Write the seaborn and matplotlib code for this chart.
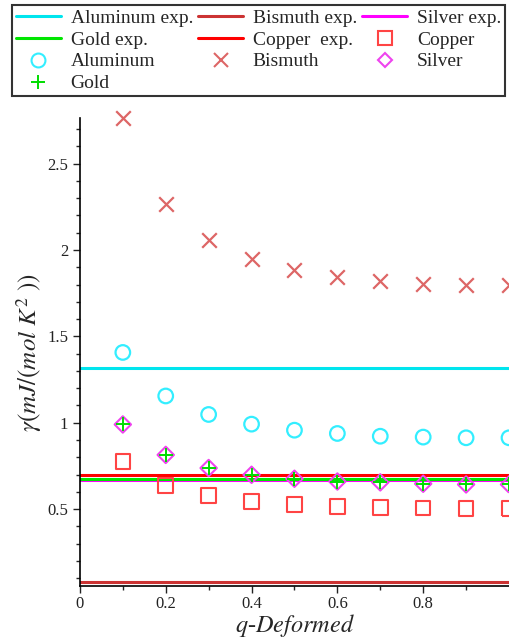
import numpy as np
import pandas as pd
import matplotlib
matplotlib.use("Agg")
import matplotlib.pyplot as plt
import seaborn as sns
from matplotlib.lines import Line2D

# --- dados ---
q_values = [0.1, 0.2, 0.3, 0.4, 0.5, 0.6, 0.7, 0.8, 0.9, 1.0]
aluminum = [1.407, 1.155, 1.048, 0.992, 0.957, 0.938, 0.922, 0.917, 0.913, 0.913]
bismuth = [2.764, 2.268, 2.060, 1.950, 1.886, 1.843, 1.818, 1.805, 1.799, 1.795]
gold = [0.990, 0.814, 0.738, 0.699, 0.676, 0.660, 0.655, 0.647, 0.643, 0.643]
silver = [0.990, 0.814, 0.738, 0.699, 0.676, 0.660, 0.655, 0.647, 0.643, 0.643]
copper = [0.777, 0.636, 0.578, 0.545, 0.528, 0.516, 0.510, 0.506, 0.503, 0.503]

# valores experimentais (linhas horizontais)
exp_names = ["Aluminum exp.", "Bismuth exp.", "Silver exp.", "Gold exp.", "Copper  exp."]
exp_values = [1.315, 0.079, 0.666, 0.676, 0.695]

sns.set_theme(style="ticks")
plt.rcParams['font.family'] = ['Liberation Serif', 'DejaVu Serif']
plt.rcParams['mathtext.fontset'] = 'stix'

df = pd.DataFrame({"q": q_values, "Aluminum": aluminum, "Bismuth": bismuth,
                   "Gold": gold, "Silver": silver, "Copper": copper})

fig = plt.figure(figsize=(5.09, 6.43), dpi=100)
ax = fig.add_axes([0.157, 0.0886, 0.843, 0.7279])

exp_colors = {"Aluminum exp.": "#00e5ee", "Bismuth exp.": "#cc3333",
              "Silver exp.": "#ff00ff", "Gold exp.": "#00e600",
              "Copper  exp.": "#ff0000"}
for name, val in zip(exp_names, exp_values):
    ax.axhline(val, color=exp_colors[name], lw=2.2, zorder=2)

ms = 110
sns.scatterplot(data=df, x="q", y="Aluminum", ax=ax, marker="o", s=ms,
                facecolor="none", edgecolor="#33eeff", linewidth=1.6, zorder=3,
                clip_on=False)
sns.scatterplot(data=df, x="q", y="Bismuth", ax=ax, marker="x", s=ms,
                color="#dd6666", linewidth=1.6, zorder=3, clip_on=False)
sns.scatterplot(data=df, x="q", y="Copper", ax=ax, marker="s", s=ms,
                facecolor="none", edgecolor="#ff4444", linewidth=1.5, zorder=3,
                clip_on=False)
sns.scatterplot(data=df, x="q", y="Silver", ax=ax, marker="D", s=70,
                facecolor="none", edgecolor="#ee44ee", linewidth=1.5, zorder=3,
                clip_on=False)
sns.scatterplot(data=df, x="q", y="Gold", ax=ax, marker="+", s=ms,
                color="#00dd00", linewidth=1.4, zorder=4, clip_on=False)

ax.set_xlim(0, 1.0)
ax.set_ylim(0.055, 2.764)
ax.set_xticks([0, 0.2, 0.4, 0.6, 0.8])
ax.set_xticklabels(["0", "0.2", "0.4", "0.6", "0.8"])
ax.set_xticks(np.arange(0.1, 1.0, 0.2), minor=True)
ax.set_yticks([0.5, 1, 1.5, 2, 2.5])
ax.set_yticklabels(["0.5", "1", "1.5", "2", "2.5"])
ax.set_yticks(np.arange(0.1, 2.75, 0.1), minor=True)
ax.tick_params(which="major", length=5, width=1, labelsize=12, colors="#222222")
ax.tick_params(which="minor", length=3, width=1)
ax.tick_params(axis="x", pad=2)
for s in ["top", "right"]:
    ax.spines[s].set_visible(False)
ax.spines["left"].set_linewidth(1.2)
ax.spines["bottom"].set_linewidth(1.2)
ax.spines["left"].set_color("black")
ax.spines["bottom"].set_color("black")

ax.set_xlabel(r"$q$-$Deformed$", fontsize=17.5, labelpad=0)
ax.set_ylabel(r"$\gamma(mJ/(mol\ K^{2}\ ))$", fontsize=18, labelpad=2)

# legenda (ordem por colunas)
handles = [
    Line2D([], [], color=exp_colors["Aluminum exp."], lw=2.2),
    Line2D([], [], color=exp_colors["Gold exp."], lw=2.2),
    Line2D([], [], ls="none", marker="o", ms=10, mfc="none", mec="#33eeff", mew=1.5),
    Line2D([], [], ls="none", marker="+", ms=10, color="#00dd00", mew=1.4),
    Line2D([], [], color=exp_colors["Bismuth exp."], lw=2.2),
    Line2D([], [], color=exp_colors["Copper  exp."], lw=2.2),
    Line2D([], [], ls="none", marker="x", ms=10, color="#dd6666", mew=1.5),
    Line2D([], [], color=exp_colors["Silver exp."], lw=2.2),
    Line2D([], [], ls="none", marker="s", ms=10, mfc="none", mec="#ff4444", mew=1.5),
    Line2D([], [], ls="none", marker="D", ms=7, mfc="none", mec="#ee44ee", mew=1.5),
]
labels = ["Aluminum exp.", "Gold exp.", "Aluminum", "Gold",
          "Bismuth exp.", "Copper  exp.", "Bismuth",
          "Silver exp.", "Copper", "Silver"]
leg = fig.legend(handles, labels, ncol=3, loc="upper left",
                 bbox_to_anchor=(0.024, 0.848, 0.968, 0.144), mode="expand",
                 fontsize=14, frameon=True, fancybox=False, framealpha=1,
                 edgecolor="#333333", handlelength=2.3, handletextpad=0.5,
                 labelspacing=0.22, borderpad=0.2, columnspacing=0.6,
                 borderaxespad=0)
leg.get_frame().set_linewidth(1.5)

fig.savefig("out.png", dpi=100)
